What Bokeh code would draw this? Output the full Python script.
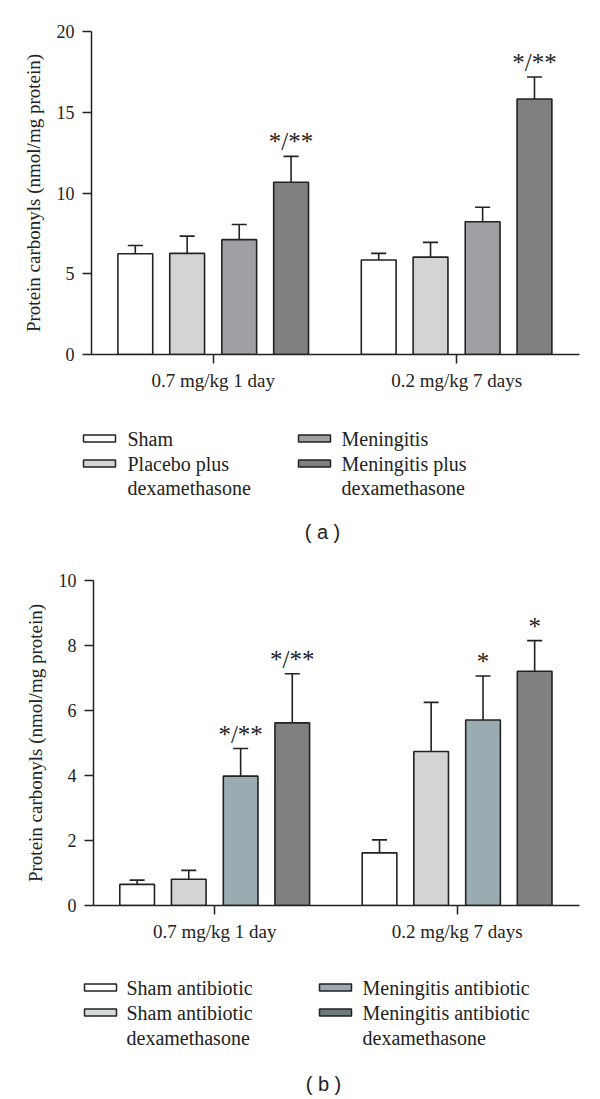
from bokeh.plotting import figure
from bokeh.layouts import column
from bokeh.models import Range1d, FixedTicker
from bokeh.core.properties import value
from bokeh.embed import file_html
from bokeh.resources import INLINE

# ---------------- data ----------------
groups = ["0.7 mg/kg 1 day", "0.2 mg/kg 7 days"]

# panel (a)
a_labels = ["Sham", "Placebo plus\ndexamethasone", "Meningitis", "Meningitis plus\ndexamethasone"]
a_colors = ["#ffffff", "#d4d4d4", "#a0a0a4", "#808080"]
a_legend_colors = ["#ffffff", "#d4d4d4", "#a0a0a4", "#808080"]
a_mean_g1 = [6.24, 6.26, 7.11, 10.67]
a_sem_g1 = [0.51, 1.07, 0.94, 1.60]
a_mean_g2 = [5.85, 6.03, 8.22, 15.82]
a_sem_g2 = [0.41, 0.91, 0.90, 1.36]
a_marks_g1 = ["", "", "", "*/**"]
a_marks_g2 = ["", "", "", "*/**"]
a_yticks = [0, 5, 10, 15, 20]

# panel (b)
b_labels = ["Sham antibiotic", "Sham antibiotic\ndexamethasone", "Meningitis antibiotic", "Meningitis antibiotic\ndexamethasone"]
b_colors = ["#ffffff", "#d4d4d4", "#9aabb2", "#808080"]
b_legend_colors = ["#ffffff", "#d5dcd8", "#9aabb2", "#6f7b7b"]
b_mean_g1 = [0.65, 0.81, 3.98, 5.62]
b_sem_g1 = [0.13, 0.27, 0.85, 1.51]
b_mean_g2 = [1.62, 4.74, 5.71, 7.21]
b_sem_g2 = [0.40, 1.51, 1.35, 0.94]
b_marks_g1 = ["", "", "*/**", "*/**"]
b_marks_g2 = ["", "", "*", "*"]
b_yticks = [0, 2, 4, 6, 8, 10]

y_label = "Protein carbonyls (nmol/mg protein)"

SERIF = "Liberation Serif"
W = 600
offsets = [-0.32, -0.107, 0.107, 0.32]
BAR_W = 0.143
CAP = 0.031
INK = "#222222"


def chart(means, sems, marks, colors, yticks, height, left, top, bottom, right, x_end):
    p = figure(width=W, height=height, output_backend="svg", toolbar_location=None,
               x_range=Range1d(-0.5, x_end), y_range=Range1d(0, yticks[-1]),
               min_border_left=left, min_border_top=top, min_border_bottom=bottom,
               min_border_right=right, frame_align=False)
    xs, tops, errs, cols, txt = [], [], [], [], []
    for gi in range(len(groups)):
        for si in range(len(offsets)):
            xs.append(gi + offsets[si])
            tops.append(means[gi][si])
            errs.append(means[gi][si] + sems[gi][si])
            cols.append(colors[si])
            txt.append(marks[gi][si])
    p.segment(x0=xs, y0=tops, x1=xs, y1=errs, line_color=INK, line_width=1.6)
    p.segment(x0=[x - CAP for x in xs], y0=errs, x1=[x + CAP for x in xs], y1=errs,
              line_color=INK, line_width=1.6)
    p.vbar(x=xs, top=tops, bottom=0, width=BAR_W, fill_color=cols,
           line_color=INK, line_width=1.6)
    p.text(x=xs, y=errs, text=txt, text_align="center", text_baseline="bottom",
           y_offset=-1, text_font=value(SERIF), text_font_size="25px", text_color=INK)

    p.xgrid.visible = False
    p.ygrid.visible = False
    p.outline_line_color = None
    p.background_fill_color = "white"
    p.border_fill_color = "white"

    p.xaxis.ticker = FixedTicker(ticks=[0, 1])
    p.xaxis.major_label_overrides = {0: groups[0], 1: groups[1]}
    p.yaxis.ticker = FixedTicker(ticks=yticks)
    for ax in (p.xaxis, p.yaxis):
        ax.axis_line_color = INK
        ax.axis_line_width = 1.5
        ax.major_tick_line_color = INK
        ax.major_tick_line_width = 1.5
        ax.major_tick_out = 9
        ax.major_tick_in = 0
        ax.minor_tick_line_color = None
        ax.major_label_text_font = SERIF
        ax.major_label_text_color = INK
    p.xaxis.major_label_text_font_size = "19px"
    p.yaxis.major_label_text_font_size = "18px"
    p.xaxis.major_label_standoff = 6
    p.yaxis.major_label_standoff = 8
    p.yaxis.axis_label = y_label
    p.yaxis.axis_label_text_font = SERIF
    p.yaxis.axis_label_text_font_size = "19px"
    p.yaxis.axis_label_text_font_style = "normal"
    p.yaxis.axis_label_text_color = INK
    p.yaxis.axis_label_standoff = 10
    return p


def legend(labels, colors, height, sw_x, tx_x, rows_y, caption, cap_x, cap_y):
    p = figure(width=W, height=height, output_backend="svg", toolbar_location=None,
               x_range=Range1d(0, W), y_range=Range1d(height, 0),
               min_border=0, min_border_left=0, min_border_right=0,
               min_border_top=0, min_border_bottom=0, frame_align=False)
    p.axis.visible = False
    p.xgrid.visible = False
    p.ygrid.visible = False
    p.outline_line_color = None
    # series 0,1 in column 0 ; series 2,3 in column 1
    place = [(0, 0), (0, 1), (1, 0), (1, 1)]
    rx, ry, tx, ty, tt = [], [], [], [], []
    for i, lab in enumerate(labels):
        c, r = place[i]
        rx.append(sw_x[c])
        ry.append(rows_y[r])
        for k, line in enumerate(lab.split("\n")):
            tx.append(tx_x[c])
            ty.append(rows_y[r + k])
            tt.append(line)
    p.rect(x=rx, y=ry, width=32, height=7, fill_color=colors, line_color=INK, line_width=1.5)
    p.text(x=tx, y=ty, text=tt, text_baseline="middle", text_align="left",
           text_font=value(SERIF), text_font_size="20px", text_color=INK)
    p.text(x=[cap_x], y=[cap_y], text=[caption], text_baseline="middle", text_align="center",
           text_font=value("Liberation Sans"), text_font_size="20px", text_color=INK)
    return p


pa = chart([a_mean_g1, a_mean_g2], [a_sem_g1, a_sem_g2], [a_marks_g1, a_marks_g2], a_colors,
           a_yticks, height=400, left=91, top=31, bottom=46, right=21, x_end=1.505)
la = legend(a_labels, a_legend_colors, 145, [99, 314], [127, 341], [38, 63, 87], "( a )", 322, 131)
pb = chart([b_mean_g1, b_mean_g2], [b_sem_g1, b_sem_g2], [b_marks_g1, b_marks_g2], b_colors,
           b_yticks, height=405, left=93, top=35, bottom=45, right=21, x_end=1.505)
lb = legend(b_labels, b_legend_colors, 145, [100, 335], [126, 362], [37, 62, 87], "( b )", 323, 133)

layout = column(pa, la, pb, lb, spacing=0)
open("out.html", "w").write(file_html(layout, INLINE))
